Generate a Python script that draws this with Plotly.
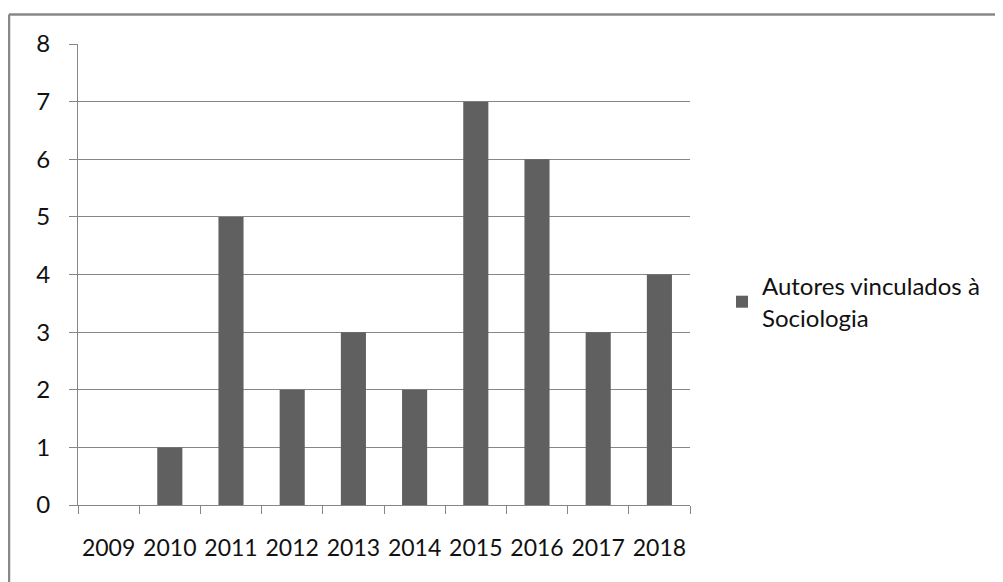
import plotly.graph_objects as go

years = ["2009", "2010", "2011", "2012", "2013", "2014", "2015", "2016", "2017", "2018"]
values = [0, 1, 5, 2, 3, 2, 7, 6, 3, 4]
series_name = "Autores vinculados à<br>Sociologia"

OFF = 8  # default page body margin
W, H = 1003 - OFF, 582 - OFF
L, T = 78 - OFF, 44 - OFF
pw, ph = 612, 461
R, B = W - L - pw, H - T - ph

def px_x(p):
    return (p - OFF - L) / pw

def px_y(p):
    return (T + ph - (p - OFF)) / ph

fig = go.Figure()
fig.add_trace(go.Bar(x=years, y=values, name=series_name, marker=dict(color="#606060", line=dict(width=0)),
                     showlegend=True))

font = dict(family="Lato, Liberation Sans, sans-serif", size=24, color="#111111")
xfont = dict(family="Lato, Liberation Sans, sans-serif", size=23, color="#111111")
fig.update_layout(
    width=W, height=H,
    margin=dict(l=L, r=R, t=T, b=B, autoexpand=False),
    paper_bgcolor="white", plot_bgcolor="white",
    font=font,
    bargap=0.59,
    showlegend=True,
    legend=dict(x=px_x(722), y=px_y(264), xanchor="left", yanchor="top",
                font=font, bgcolor="rgba(0,0,0,0)", tracegroupgap=0),
    xaxis=dict(type="category", showgrid=False, showline=True, linecolor="#868686", linewidth=1,
               ticks="outside", tickson="boundaries", ticklen=8, tickcolor="#868686",
               tickangle=0, automargin=False,
               ticklabelstandoff=22, tickfont=xfont, fixedrange=True),
    yaxis=dict(range=[0, 8], dtick=1, showgrid=True, gridcolor="#868686", gridwidth=1,
               showline=True, linecolor="#868686", linewidth=1, zeroline=False,
               ticks="outside", ticklen=8, tickcolor="#868686", ticklabelstandoff=14,
               automargin=False, tickfont=font, fixedrange=True),
    shapes=[
        dict(type="line", xref="paper", yref="paper", x0=px_x(9), x1=px_x(1010), y0=px_y(14.5), y1=px_y(14.5),
             line=dict(color="#888888", width=2.5)),
        dict(type="line", xref="paper", yref="paper", x0=px_x(9), x1=px_x(9), y0=px_y(14.5), y1=px_y(590),
             line=dict(color="#888888", width=2.5)),
    ],
)

fig.write_html("out.html")
